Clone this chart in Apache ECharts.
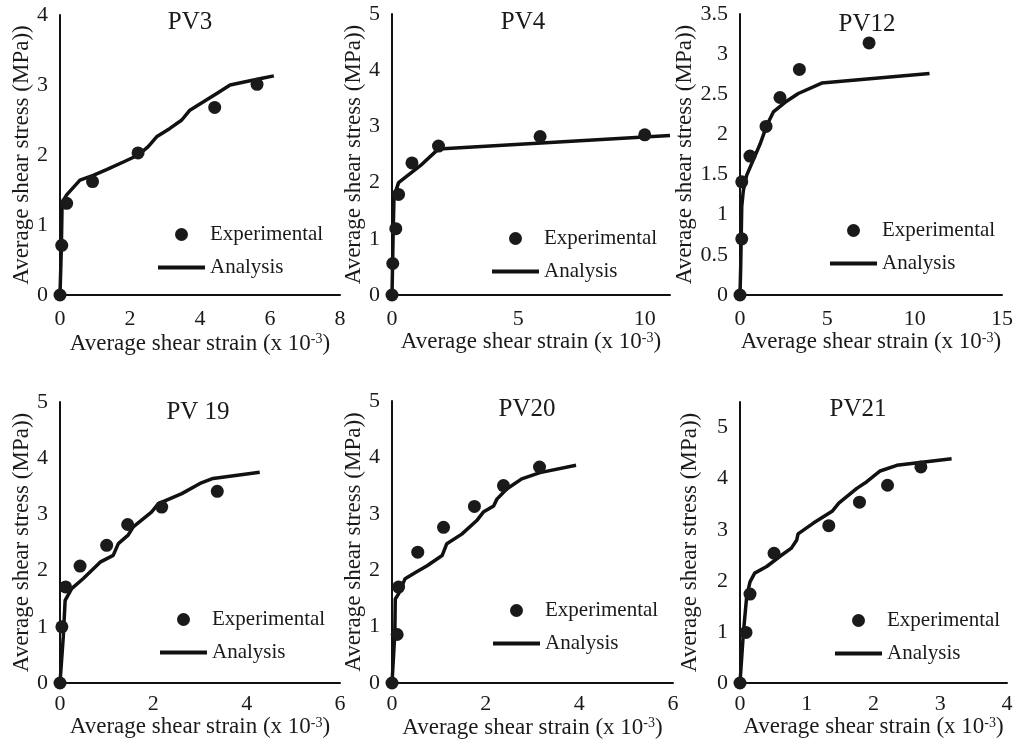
<!DOCTYPE html>
<html>
<head>
<meta charset="utf-8">
<script src="https://cdn.jsdelivr.net/npm/echarts@6/dist/echarts.min.js"></script>
<style>html,body{margin:0;padding:0;background:#fff;}#c{width:1018px;height:745px;}</style>
</head>
<body>
<div id="c"></div>
<script>
// ---- Data (strain x10^-3, stress MPa) ----
const titles = ['PV3', 'PV4', 'PV12', 'PV 19', 'PV20', 'PV21'];
const legendNames = ['Experimental', 'Analysis'];

const pv3Exp = [[0,0],[0.05,0.71],[0.19,1.31],[0.93,1.62],[2.23,2.03],[4.42,2.68],[5.63,3.01]];
const pv3Ana = [[0,0],[0.04,0.7],[0.06,1.32],[0.19,1.43],[0.57,1.64],[0.95,1.71],[1.33,1.79],[1.81,1.9],[2.24,2.0],[2.52,2.12],[2.76,2.26],[3.14,2.38],[3.48,2.5],[3.71,2.64],[4.1,2.76],[4.48,2.88],[4.86,3.0],[5.33,3.05],[5.81,3.1],[6.11,3.13]];

const pv4Exp = [[0,0],[0.03,0.56],[0.15,1.18],[0.26,1.79],[0.79,2.35],[1.84,2.65],[5.86,2.82],[10.0,2.85]];
const pv4Ana = [[0,0],[0.05,1.2],[0.08,1.75],[0.26,2.0],[1.12,2.3],[1.84,2.6],[11.0,2.84]];

const pv12Exp = [[0,0],[0.1,0.7],[0.1,1.41],[0.57,1.73],[1.49,2.1],[2.29,2.46],[3.4,2.81],[7.39,3.14]];
const pv12Ana = [[0,0],[0.04,0.35],[0.1,1.1],[0.19,1.3],[0.38,1.49],[1.15,1.88],[1.53,2.11],[1.91,2.28],[2.58,2.4],[3.34,2.51],[4.68,2.64],[10.85,2.76]];

const pv19Exp = [[0,0],[0.04,1.0],[0.12,1.71],[0.43,2.08],[1.0,2.45],[1.45,2.82],[2.18,3.13],[3.37,3.41]];
const pv19Ana = [[0,0],[0.07,0.82],[0.11,1.47],[0.25,1.68],[0.5,1.86],[0.86,2.15],[1.14,2.27],[1.25,2.48],[1.46,2.63],[1.57,2.78],[1.96,3.04],[2.11,3.19],[2.61,3.37],[3.0,3.55],[3.28,3.64],[4.28,3.75]];

const pv20Exp = [[0,0],[0.11,0.86],[0.14,1.7],[0.55,2.32],[1.1,2.76],[1.76,3.13],[2.38,3.5],[3.15,3.83]];
const pv20Ana = [[0,0],[0.06,0.87],[0.07,1.49],[0.14,1.58],[0.28,1.85],[0.5,1.96],[0.75,2.08],[1.07,2.26],[1.17,2.47],[1.49,2.64],[1.81,2.88],[1.95,3.03],[2.17,3.14],[2.24,3.26],[2.45,3.44],[2.77,3.62],[3.16,3.73],[3.93,3.86]];

const pv21Exp = [[0,0],[0.09,0.99],[0.15,1.74],[0.51,2.54],[1.33,3.08],[1.79,3.54],[2.21,3.87],[2.71,4.23]];
const pv21Ana = [[0,0],[0.05,0.97],[0.1,1.69],[0.15,1.98],[0.22,2.15],[0.4,2.28],[0.6,2.48],[0.77,2.64],[0.85,2.8],[0.87,2.92],[1.1,3.13],[1.38,3.36],[1.48,3.52],[1.75,3.81],[1.9,3.94],[2.1,4.15],[2.35,4.26],[3.17,4.39]];

// axis ranges: [min, max, interval]
const xRanges = [[0,8,2],[0,11,5],[0,15,5],[0,6,2],[0,6,2],[0,4,1]];
const yRanges = [[0,4,1],[0,5,1],[0,3.5,0.5],[0,5,1],[0,5,1],[0,5.5,1]];

const expData = [pv3Exp, pv4Exp, pv12Exp, pv19Exp, pv20Exp, pv21Exp];
const anaData = [pv3Ana, pv4Ana, pv12Ana, pv19Ana, pv20Ana, pv21Ana];

// ---- Layout ----
const FONT = '"Liberation Serif", "Times New Roman", serif';
const INK = '#1a1a1a';
const grids = [
  {left:60, top:15, width:280, height:280},
  {left:392, top:14, width:278, height:281},
  {left:740, top:14, width:262, height:281},
  {left:60, top:402, width:280, height:281},
  {left:392, top:401, width:281, height:282},
  {left:740, top:402, width:267, height:281}
];
const titlePos = [[190,10],[523,10],[867,12],[198,400],[527,397],[858,397]];
const legendPos = [[158,224],[492,228],[830,220],[160,609],[493,600],[835,610]];
const yNameGap = [25,22,38,25,24,39];
const xNameGap = [37,35,35,32,33,28];
const xLabelMargin = [13,13,13,10,10,10];
const hideMaxX = [false,true,false,false,false,false];
const hideMaxY = [false,false,false,false,false,true];
const lineIcon = 'path://M0,0 L47,0 L47,4 L0,4 Z';

const chart = echarts.init(document.getElementById('c'), null, {renderer:'canvas'});
const option = {
  animation:false,
  backgroundColor:'#fff',
  textStyle:{fontFamily:FONT},
  title:[], grid:[], xAxis:[], yAxis:[], legend:[], series:[]
};

for (let i = 0; i < 6; i++) {
  option.title.push({
    text:titles[i], left:titlePos[i][0], top:titlePos[i][1], textAlign:'center', padding:0,
    textStyle:{fontFamily:FONT, fontSize:25, fontWeight:'normal', color:INK}
  });
  option.grid.push(Object.assign({containLabel:false}, grids[i]));
  option.xAxis.push({
    type:'value', gridIndex:i, min:xRanges[i][0], max:xRanges[i][1], interval:xRanges[i][2],
    name:'Average shear strain (x 10{sup|-3})', nameLocation:'middle', nameGap:xNameGap[i],
    nameTextStyle:{fontFamily:FONT, fontSize:23, color:INK,
      rich:{sup:{fontFamily:FONT, fontSize:14, color:INK, verticalAlign:'top', padding:[0,0,8,0]}}},
    axisLine:{show:true, onZero:false, lineStyle:{color:'#111', width:2}},
    axisTick:{show:false}, splitLine:{show:false},
    axisLabel:{fontFamily:FONT, fontSize:22, color:INK, margin:xLabelMargin[i], showMaxLabel:!hideMaxX[i]}
  });
  option.yAxis.push({
    type:'value', gridIndex:i, min:yRanges[i][0], max:yRanges[i][1], interval:yRanges[i][2],
    name:'Average shear stress (MPa))', nameLocation:'middle', nameGap:yNameGap[i],
    nameTextStyle:{fontFamily:FONT, fontSize:23, color:INK},
    axisLine:{show:true, onZero:false, lineStyle:{color:'#111', width:2}},
    axisTick:{show:false}, splitLine:{show:false},
    axisLabel:{fontFamily:FONT, fontSize:22, color:INK, margin:12, showMaxLabel:!hideMaxY[i]}
  });
  option.legend.push({
    orient:'vertical', left:legendPos[i][0], top:legendPos[i][1], padding:0,
    itemWidth:47, itemHeight:13, itemGap:12,
    data:[{name:legendNames[0], icon:'circle'}, {name:legendNames[1], icon:lineIcon}],
    selectedMode:false,
    textStyle:{fontFamily:FONT, fontSize:21, color:INK}
  });
  option.series.push({
    name:legendNames[1], type:'line', xAxisIndex:i, yAxisIndex:i, data:anaData[i],
    symbol:'none', smooth:false, lineStyle:{color:'#111', width:3.5}, itemStyle:{color:'#111'}, z:2
  });
  option.series.push({
    name:legendNames[0], type:'scatter', xAxisIndex:i, yAxisIndex:i, data:expData[i],
    symbol:'circle', symbolSize:13, itemStyle:{color:INK, opacity:1}, z:3
  });
}
chart.setOption(option);
</script>
</body>
</html>
